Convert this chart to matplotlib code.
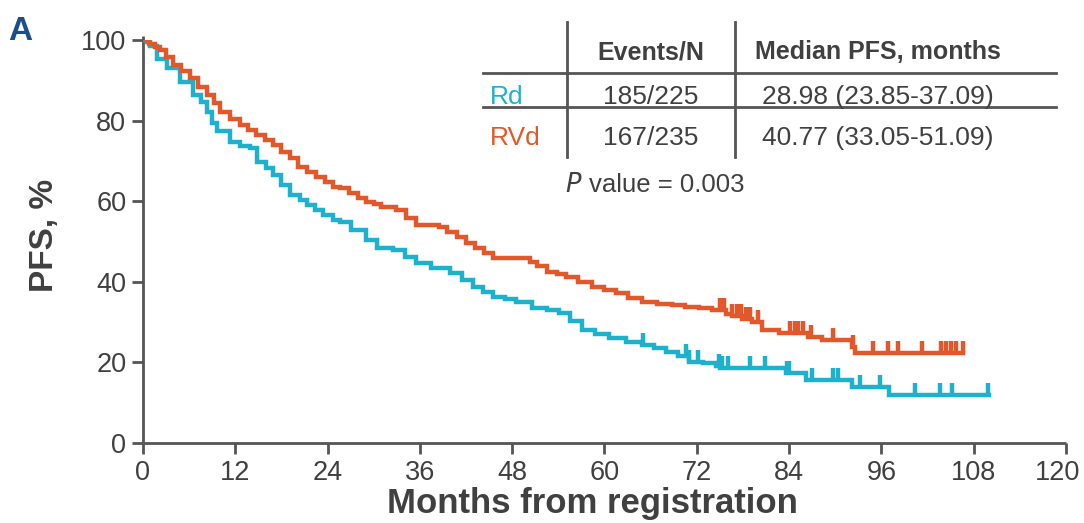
import numpy as np
import matplotlib
matplotlib.use("Agg")
import matplotlib.pyplot as plt
from matplotlib.lines import Line2D
from matplotlib.path import Path
from matplotlib.transforms import ScaledTranslation

plt.rcParams['font.family'] = ['Liberation Sans', 'DejaVu Sans']

# ---------------- data ----------------
arms = ["Rd", "RVd"]
events_n = ["185/225", "167/235"]
median_pfs = ["28.98 (23.85-37.09)", "40.77 (33.05-51.09)"]
p_value = "0.003"

rd_time = [0, 0.5, 0.9, 1.8, 3.1, 4.8, 6.5, 7.5, 8.3, 9.0, 9.6, 11.3, 12.6, 13.9,
           14.8, 16.0, 16.9, 18.0, 19.1, 20.4, 21.3, 22.4, 23.4, 24.7, 25.6, 27.0,
           29.0, 30.4, 32.5, 34.0, 35.5, 37.5, 39.9, 41.5, 42.9, 44.2, 45.5, 47.0,
           48.5, 50.6, 52.5, 54.1, 55.5, 57.1, 58.8, 60.6, 62.8, 64.9, 66.5, 68.0,
           69.5, 71.0, 72.8, 74.5, 75.0, 83.6, 86.2, 92.2, 97.0, 110.0]
rd_surv = [100, 99.6, 98.5, 95.4, 93.0, 89.7, 86.4, 84.5, 82.2, 79.5, 77.3, 74.8,
           73.8, 73.1, 69.8, 68.2, 66.5, 64.0, 61.5, 60.3, 59.0, 57.8, 56.6, 55.3,
           54.9, 52.8, 50.4, 48.3, 47.9, 46.2, 44.6, 43.4, 42.1, 40.5, 38.8, 37.5,
           36.3, 35.7, 35.1, 33.4, 33.0, 32.2, 30.2, 28.0, 27.0, 26.0, 25.1, 24.3,
           23.5, 22.7, 21.5, 20.2, 19.8, 19.1, 18.5, 17.4, 15.6, 14.0, 11.9, 11.9]
rd_censor = [65.0, 70.6, 71.0, 72.2, 74.9, 75.3, 76.1, 78.9, 80.9, 83.7, 84.0,
             87.0, 89.7, 90.4, 93.2, 95.8, 100.4, 103.6, 105.2, 109.9]

rvd_time = [0, 0.8, 1.5, 2.2, 3.0, 3.9, 5.0, 6.1, 7.2, 8.3, 9.2, 10.0, 11.3, 12.6,
            13.6, 14.7, 15.8, 16.9, 18.0, 19.1, 20.2, 21.3, 22.5, 23.6, 24.7, 25.6,
            26.8, 28.0, 29.0, 30.0, 31.0, 32.9, 34.2, 35.5, 38.5, 39.5, 40.8, 42.0,
            43.2, 44.3, 45.5, 50.3, 51.2, 52.5, 53.8, 55.0, 56.5, 58.4, 60.0, 61.5,
            63.0, 64.9, 66.8, 68.8, 70.5, 72.3, 74.0, 75.8, 76.6, 77.9, 79.2, 80.5,
            82.7, 86.5, 88.3, 92.2, 92.6, 106.6]
rvd_surv = [100, 99.0, 98.3, 97.5, 95.8, 93.8, 92.2, 90.6, 88.4, 86.4, 84.3, 82.2,
            80.5, 78.9, 77.7, 76.4, 75.2, 73.9, 72.3, 70.7, 68.5, 67.3, 66.0, 64.8,
            63.6, 63.2, 62.0, 60.9, 59.9, 59.2, 58.5, 57.8, 55.9, 54.1, 53.7, 52.4,
            51.0, 49.6, 48.4, 47.1, 45.8, 45.0, 43.9, 42.5, 42.0, 41.3, 40.0, 38.8,
            38.0, 37.1, 36.1, 35.1, 34.6, 34.2, 33.8, 33.4, 33.0, 32.0, 31.4, 30.8,
            30.1, 28.0, 27.2, 26.3, 25.6, 23.9, 22.3, 22.3]
rvd_censor = [75.0, 75.5, 76.6, 77.2, 77.7, 78.4, 78.9, 79.9, 84.1, 84.8, 85.2,
              85.8, 86.8, 89.7, 92.3, 94.9, 96.8, 98.2, 101.3, 103.8, 104.4,
              105.1, 105.7, 106.6]

x_ticks = [0, 12, 24, 36, 48, 60, 72, 84, 96, 108, 120]
y_ticks = [0, 20, 40, 60, 80, 100]

# ---------------- style ----------------
C_RD = "#1eb1cc"
C_RVD = "#e3582b"
TXT = "#404040"
AX = "#555555"
W, H = 1084, 523

fig = plt.figure(figsize=(W / 100, H / 100), dpi=100)
ax = fig.add_axes([143 / W, (H - 443) / H, 923 / W, 403 / H])


def px(x, y):
    return x / W, 1 - y / H


def step_value(times, surv, t):
    idx = np.searchsorted(np.asarray(times), t, side="right") - 1
    return np.asarray(surv)[np.clip(idx, 0, len(surv) - 1)]


tick_marker = Path([(0, 0), (0, 1)], [Path.MOVETO, Path.LINETO])

for times, surv, cens, col in [(rd_time, rd_surv, rd_censor, C_RD),
                               (rvd_time, rvd_surv, rvd_censor, C_RVD)]:
    ax.step(times, surv, where="post", color=col, lw=3.2, solid_joinstyle="miter",
            zorder=3)
    cy = step_value(times, surv, np.asarray(cens))
    ax.plot(cens, cy, ls="none", marker=tick_marker, markersize=17,
            markeredgewidth=3.2, color=col, zorder=3)

ax.set_xlim(0, 120)
ax.set_ylim(0, 100)
ax.set_xticks(x_ticks)
ax.set_yticks(y_ticks)
for s in ["top", "right"]:
    ax.spines[s].set_visible(False)
for s in ["left", "bottom"]:
    ax.spines[s].set_color(AX)
    ax.spines[s].set_linewidth(2.0)
    ax.spines[s].set_capstyle("butt")
ax.spines["left"].set_bounds(0, 101)
ax.tick_params(direction="out", length=8, width=2.0, color=AX, labelcolor=TXT,
               labelsize=19.5, pad=4)
ax.patch.set_alpha(0)
# keep the last x tick label inside the figure, as in the reference
last = ax.get_xticklabels()[-1]
last.set_transform(last.get_transform() +
                   ScaledTranslation(-8 / 100, 0, fig.dpi_scale_trans))

# axis titles
fig.text(*px(44, 235), "PFS, %", rotation=90, fontsize=24, fontweight="bold",
         color=TXT, ha="center", va="center")
fig.text(*px(592, 503), "Months from registration", fontsize=25,
         fontweight="bold", color=TXT, ha="center", va="center")
fig.text(*px(20, 32), "A", fontsize=24, fontweight="bold", color="#1b4f8c",
         ha="center", va="center")

# summary table
for y in (73, 107):
    fig.add_artist(Line2D([483 / W, 1056 / W], [1 - y / H, 1 - y / H],
                          color=AX, lw=2.0))
for x in (567, 735):
    fig.add_artist(Line2D([x / W, x / W], [1 - 22 / H, 1 - 157 / H],
                          color=AX, lw=2.0))

fig.text(*px(651, 52), "Events/N", fontsize=18, fontweight="bold", color=TXT,
         ha="center", va="center")
fig.text(*px(878, 52), "Median PFS, months", fontsize=18, fontweight="bold",
         color=TXT, ha="center", va="center")
row_y = [97, 138]
for arm, ev, med, col, y in zip(arms, events_n, median_pfs, [C_RD, C_RVD], row_y):
    fig.text(*px(490, y), arm, fontsize=19, color=col, ha="left", va="center")
    fig.text(*px(651, y), ev, fontsize=19, color=TXT, ha="center", va="center")
    fig.text(*px(878, y), med, fontsize=19, color=TXT, ha="center", va="center")

fig.text(*px(565, 185), r"$\it{P}$", fontsize=18.5, color=TXT, ha="left",
         va="center")
fig.text(*px(589, 185), "value = " + p_value, fontsize=18.5, color=TXT,
         ha="left", va="center")

fig.savefig("out.png", dpi=100)
